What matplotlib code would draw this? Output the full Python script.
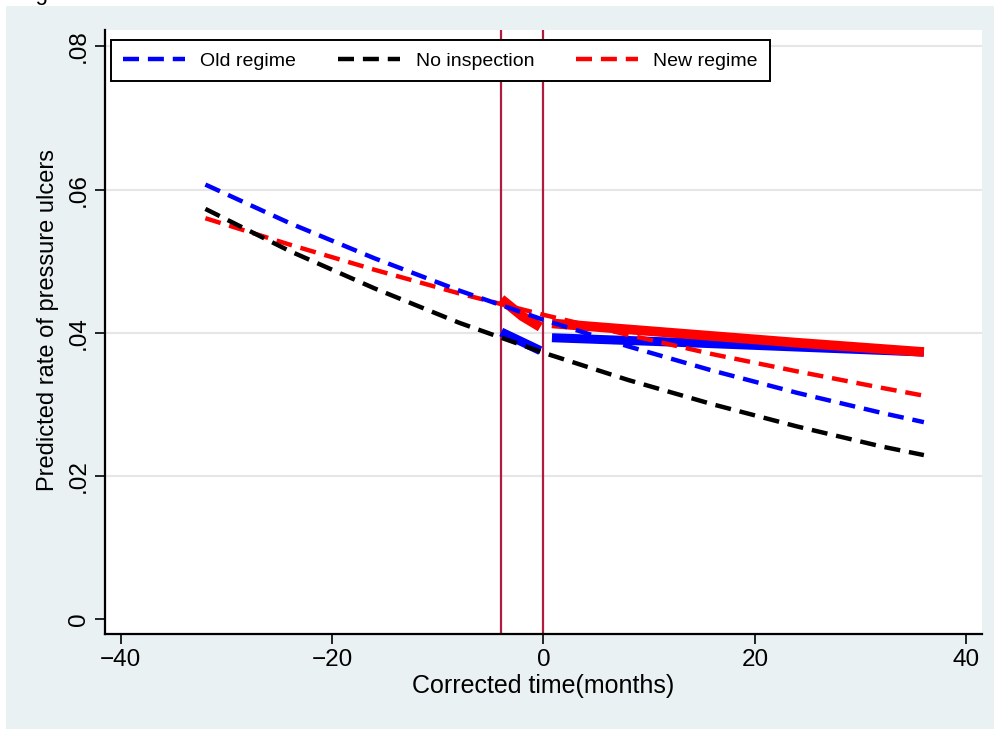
import numpy as np
import matplotlib
matplotlib.use("Agg")
import matplotlib.pyplot as plt
from matplotlib.patches import Rectangle

plt.rcParams["font.family"] = ["Liberation Sans", "DejaVu Sans"]

# predicted trend lines (dashed)
months = [-32, -24, -16, -8, 0, 8, 16, 24, 32, 36]
old_trend = [0.0607, 0.0553, 0.0504, 0.0459, 0.0418, 0.0381, 0.0347, 0.0316, 0.0288, 0.0275]
none_trend = [0.0573, 0.0514, 0.0462, 0.0414, 0.0372, 0.0334, 0.0300, 0.0269, 0.0241, 0.0229]
new_trend = [0.0560, 0.0523, 0.0488, 0.0455, 0.0425, 0.0397, 0.0370, 0.0346, 0.0323, 0.0312]

# observed segments around inspection (solid, thick)
pre_months = [-4, -2, -0.3]
old_pre = [0.0401, 0.0387, 0.0375]
new_pre = [0.0447, 0.0423, 0.0408]
post_months = [0.8, 12, 24, 36]
old_post = [0.0393, 0.0387, 0.0380, 0.0373]
new_post = [0.0413, 0.0400, 0.0386, 0.0373]

inspection_window = [-4, 0]
xticks = [-40, -20, 0, 20, 40]
yticks = [0, 0.02, 0.04, 0.06, 0.08]
ytick_labels = ["0", ".02", ".04", ".06", ".08"]

fig = plt.figure(figsize=(9.95, 7.29), dpi=100)
fig.patch.set_facecolor("white")
fig.patches.append(Rectangle((6 / 995, 0), 1, 1 - 6 / 729, transform=fig.transFigure,
                             facecolor="#eaf1f3", edgecolor="none", zorder=-10))
fig.text(17 / 995, 1.0, "Figure", fontsize=16, va="baseline", ha="left")

ax = fig.add_axes([105 / 995, 1 - 634 / 729, 877 / 995, 604 / 729])
ax.set_facecolor("white")

ax.set_xlim(-41.5, 41.5)
ax.set_ylim(-0.0021, 0.0823)

for y in [0.02, 0.04, 0.06, 0.08]:
    ax.axhline(y, color="#e6e6e6", lw=1.5, zorder=0)

for xv in inspection_window:
    ax.axvline(xv, color="#b01c40", lw=1.6, zorder=1)

# thick solid segments
ax.plot(pre_months, old_pre, color="#0000ff", lw=6.5, solid_capstyle="butt", zorder=2)
ax.plot(post_months, old_post, color="#0000ff", lw=6.5, solid_capstyle="butt", zorder=2)
ax.plot(pre_months, new_pre, color="#ff0000", lw=7, solid_capstyle="butt", zorder=2)
ax.plot(post_months, new_post, color="#ff0000", lw=7, solid_capstyle="butt", zorder=2)

# dashed trend lines
dash = (3.6, 2.0)
l_new, = ax.plot(months, new_trend, color="#ff0000", lw=3.2, dashes=dash, label="New regime", zorder=3)
l_old, = ax.plot(months, old_trend, color="#0000ff", lw=3.2, dashes=dash, label="Old regime", zorder=3)
l_none, = ax.plot(months, none_trend, color="black", lw=3.2, dashes=dash, label="No inspection", zorder=3)

for s in ["top", "right"]:
    ax.spines[s].set_visible(False)
for s in ["left", "bottom"]:
    ax.spines[s].set_linewidth(1.6)

ax.set_xticks(xticks)
ax.set_xticklabels([str(t).replace("-", "\u2212") for t in xticks])
ax.set_yticks(yticks)
ax.set_yticklabels(ytick_labels, rotation=90, va="center")
ax.tick_params(axis="both", labelsize=17.5, length=7, width=1.2, direction="out", pad=4)

ax.set_xlabel("Corrected time(months)", fontsize=18, labelpad=2)
ax.set_ylabel("Predicted rate of pressure ulcers", fontsize=17)
ax.yaxis.set_label_coords(-0.052, 0.52)

leg = ax.legend(handles=[l_old, l_none, l_new], ncol=3, loc="upper left",
                bbox_to_anchor=(0.0068, 0.904, 0.751, 0.079), mode="expand",
                fontsize=14, handlelength=3.2, frameon=True, fancybox=False,
                borderaxespad=0, borderpad=0.6, columnspacing=1.5)
leg.get_frame().set_edgecolor("black")
leg.get_frame().set_linewidth(1.4)
leg.get_frame().set_alpha(1)

fig.savefig("out.png", dpi=100, facecolor=fig.get_facecolor())
